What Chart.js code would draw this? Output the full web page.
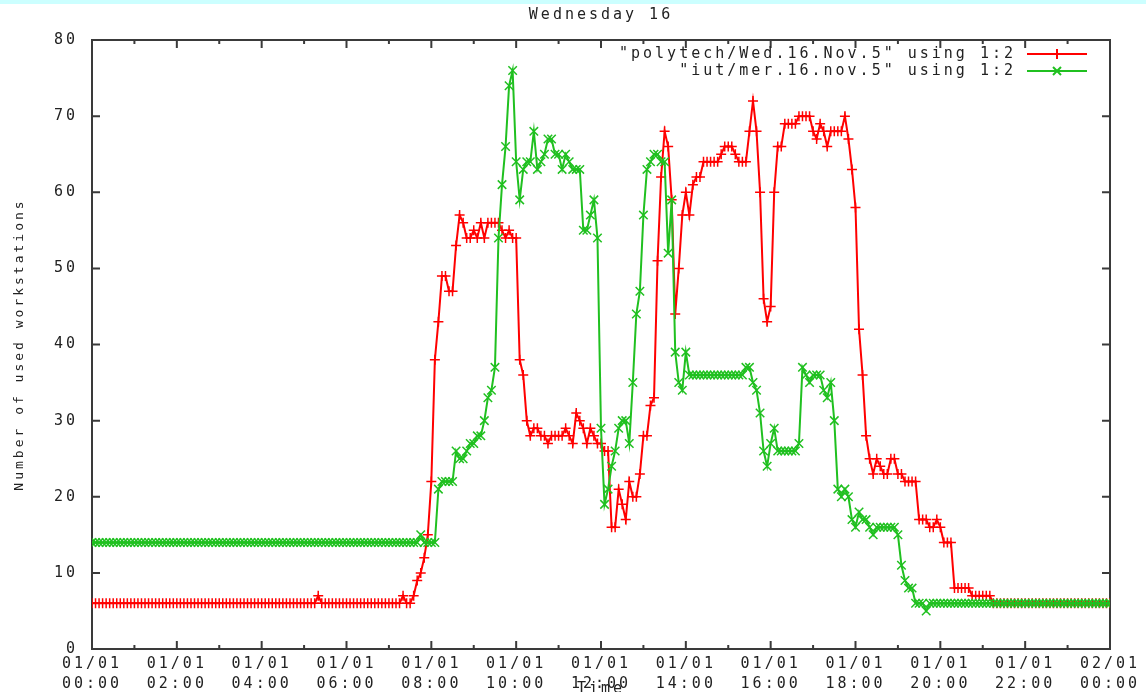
<!DOCTYPE html>
<html lang="en">

<head>
    <meta charset="UTF-8">
    <title>Wednesday 16</title>
    <script src="https://cdn.jsdelivr.net/npm/chart.js"></script>
    <style>
        html, body {
            margin: 0;
            padding: 0;
            background: #fff;
            overflow: hidden;
        }
        .wrapper {
            position: relative;
            width: 1146px;
            height: 692px;
        }
        .band {
            position: absolute;
            left: 0;
            top: 0;
            width: 100%;
            height: 4px;
            background: #ccffff;
        }
    </style>
</head>

<body>
    <div class="wrapper">
        <canvas id="usageChart"></canvas>
        <div class="band"></div>
    </div>

    <script>
        // one sample every 5 minutes, 00:00 -> 24:00
        const sampleMinutes = 5;

        const xTickLabels = [
            ['01/01', '00:00'], ['01/01', '02:00'], ['01/01', '04:00'], ['01/01', '06:00'],
            ['01/01', '08:00'], ['01/01', '10:00'], ['01/01', '12:00'], ['01/01', '14:00'],
            ['01/01', '16:00'], ['01/01', '18:00'], ['01/01', '20:00'], ['01/01', '22:00'],
            ['02/01', '00:00']
        ];
        const yTicks = [0, 10, 20, 30, 40, 50, 60, 70, 80];

        const polytechLabel = '"polytech/Wed.16.Nov.5" using 1:2';
        const iutLabel = '"iut/mer.16.nov.5" using 1:2';

        // one row per hour (12 samples)
        const polytech = [
            6, 6, 6, 6, 6, 6, 6, 6, 6, 6, 6, 6,
            6, 6, 6, 6, 6, 6, 6, 6, 6, 6, 6, 6,
            6, 6, 6, 6, 6, 6, 6, 6, 6, 6, 6, 6,
            6, 6, 6, 6, 6, 6, 6, 6, 6, 6, 6, 6,
            6, 6, 6, 6, 6, 6, 6, 6, 6, 6, 6, 6,
            6, 6, 6, 6, 7, 6, 6, 6, 6, 6, 6, 6,
            6, 6, 6, 6, 6, 6, 6, 6, 6, 6, 6, 6,
            6, 6, 6, 6, 7, 6, 6, 7, 9, 10, 12, 15,
            22, 38, 43, 49, 49, 47, 47, 53, 57, 56, 54, 54,
            55, 54, 56, 54, 56, 56, 56, 56, 55, 54, 55, 54,
            54, 38, 36, 30, 28, 29, 29, 28, 28, 27, 28, 28,
            28, 28, 29, 28, 27, 31, 30, 29, 27, 29, 28, 27,
            27, 26, 26, 16, 16, 21, 19, 17, 22, 20, 20, 23,
            28, 28, 32, 33, 51, 62, 68, 66, 59, 44, 50, 57,
            60, 57, 61, 62, 62, 64, 64, 64, 64, 64, 65, 66,
            66, 66, 65, 64, 64, 64, 68, 72, 68, 60, 46, 43,
            45, 60, 66, 66, 69, 69, 69, 69, 70, 70, 70, 70,
            68, 67, 69, 68, 66, 68, 68, 68, 68, 70, 67, 63,
            58, 42, 36, 28, 25, 23, 25, 24, 23, 23, 25, 25,
            23, 23, 22, 22, 22, 22, 17, 17, 17, 16, 16, 17,
            16, 14, 14, 14, 8, 8, 8, 8, 8, 7, 7, 7,
            7, 7, 7, 6, 6, 6, 6, 6, 6, 6, 6, 6,
            6, 6, 6, 6, 6, 6, 6, 6, 6, 6, 6, 6,
            6, 6, 6, 6, 6, 6, 6, 6, 6, 6, 6, 6,
            6
        ];

        const iut = [
            14, 14, 14, 14, 14, 14, 14, 14, 14, 14, 14, 14,
            14, 14, 14, 14, 14, 14, 14, 14, 14, 14, 14, 14,
            14, 14, 14, 14, 14, 14, 14, 14, 14, 14, 14, 14,
            14, 14, 14, 14, 14, 14, 14, 14, 14, 14, 14, 14,
            14, 14, 14, 14, 14, 14, 14, 14, 14, 14, 14, 14,
            14, 14, 14, 14, 14, 14, 14, 14, 14, 14, 14, 14,
            14, 14, 14, 14, 14, 14, 14, 14, 14, 14, 14, 14,
            14, 14, 14, 14, 14, 14, 14, 14, 14, 15, 14, 14,
            14, 14, 21, 22, 22, 22, 22, 26, 25, 25, 26, 27,
            27, 28, 28, 30, 33, 34, 37, 54, 61, 66, 74, 76,
            64, 59, 63, 64, 64, 68, 63, 64, 65, 67, 67, 65,
            65, 63, 65, 64, 63, 63, 63, 55, 55, 57, 59, 54,
            29, 19, 21, 24, 26, 29, 30, 30, 27, 35, 44, 47,
            57, 63, 64, 65, 65, 64, 64, 52, 59, 39, 35, 34,
            39, 36, 36, 36, 36, 36, 36, 36, 36, 36, 36, 36,
            36, 36, 36, 36, 36, 37, 37, 35, 34, 31, 26, 24,
            27, 29, 26, 26, 26, 26, 26, 26, 27, 37, 36, 35,
            36, 36, 36, 34, 33, 35, 30, 21, 20, 21, 20, 17,
            16, 18, 17, 17, 16, 15, 16, 16, 16, 16, 16, 16,
            15, 11, 9, 8, 8, 6, 6, 6, 5, 6, 6, 6,
            6, 6, 6, 6, 6, 6, 6, 6, 6, 6, 6, 6,
            6, 6, 6, 6, 6, 6, 6, 6, 6, 6, 6, 6,
            6, 6, 6, 6, 6, 6, 6, 6, 6, 6, 6, 6,
            6, 6, 6, 6, 6, 6, 6, 6, 6, 6, 6, 6,
            6
        ];

        const toPoints = arr => arr.map((v, i) => ({ x: i * sampleMinutes / 60, y: v }));

        // gnuplot look: box border, inward ticks on all sides, key top right
        const gnuplotFrame = {
            id: 'gnuplotFrame',
            beforeDraw(chart) {
                chart.ctx.letterSpacing = '3px';
            },
            beforeDatasetsDraw(chart) {
                const { ctx, chartArea: a, scales: { x, y } } = chart;
                ctx.save();
                ctx.strokeStyle = '#3a3a3a';
                ctx.lineWidth = 2;
                ctx.strokeRect(a.left, a.top, a.right - a.left, a.bottom - a.top);
                ctx.beginPath();
                for (let h = 0; h <= 24; h++) {
                    const px = x.getPixelForValue(h);
                    const len = h % 2 ? 4 : 8;
                    ctx.moveTo(px, a.bottom);
                    ctx.lineTo(px, a.bottom - len);
                    ctx.moveTo(px, a.top);
                    ctx.lineTo(px, a.top + len);
                }
                yTicks.forEach(v => {
                    const py = y.getPixelForValue(v);
                    ctx.moveTo(a.left, py);
                    ctx.lineTo(a.left + 8, py);
                    ctx.moveTo(a.right, py);
                    ctx.lineTo(a.right - 8, py);
                });
                ctx.stroke();
                ctx.restore();
            },
            afterDatasetsDraw(chart) {
                const { ctx, chartArea: a } = chart;
                ctx.save();
                ctx.font = "15px 'DejaVu Sans Mono', monospace";
                ctx.textAlign = 'right';
                ctx.textBaseline = 'middle';
                chart.data.datasets.forEach((ds, k) => {
                    const cy = a.top + 14 + k * 17;
                    ctx.fillStyle = '#222';
                    ctx.fillText(ds.label, a.right - 94, cy);
                    ctx.strokeStyle = ds.borderColor;
                    ctx.lineWidth = 2;
                    ctx.beginPath();
                    ctx.moveTo(a.right - 83, cy);
                    ctx.lineTo(a.right - 23, cy);
                    const cx = a.right - 53;
                    if (ds.pointStyle === 'cross') {
                        ctx.moveTo(cx, cy - 5);
                        ctx.lineTo(cx, cy + 5);
                    } else {
                        ctx.moveTo(cx - 4, cy - 4);
                        ctx.lineTo(cx + 4, cy + 4);
                        ctx.moveTo(cx - 4, cy + 4);
                        ctx.lineTo(cx + 4, cy - 4);
                    }
                    ctx.stroke();
                });
                ctx.restore();
            }
        };

        Chart.defaults.font.family = "'DejaVu Sans Mono', monospace";
        Chart.defaults.font.size = 15;
        Chart.defaults.color = '#222';

        const ctx = document.getElementById('usageChart').getContext('2d');

        const data = {
            datasets: [{
                label: polytechLabel,
                data: toPoints(polytech),
                borderColor: '#ff0000',
                pointBorderColor: '#ff0000',
                pointStyle: 'cross',
                pointRadius: 5,
                pointBorderWidth: 1.5,
                borderWidth: 2,
                tension: 0,
                fill: false,
                order: 1
            }, {
                label: iutLabel,
                data: toPoints(iut),
                borderColor: '#20c020',
                pointBorderColor: '#20c020',
                pointStyle: 'crossRot',
                pointRadius: 6,
                pointBorderWidth: 1.5,
                borderWidth: 2,
                tension: 0,
                fill: false,
                order: 0
            }]
        };

        const config = {
            type: 'line',
            data: data,
            plugins: [gnuplotFrame],
            options: {
                responsive: true,
                maintainAspectRatio: false,
                animation: false,
                layout: {
                    padding: { left: 0, right: 36, top: 0, bottom: 0 }
                },
                scales: {
                    x: {
                        type: 'linear',
                        min: 0,
                        max: 24,
                        grid: { display: false, drawTicks: false },
                        border: { display: false },
                        ticks: {
                            stepSize: 2,
                            autoSkip: false,
                            maxRotation: 0,
                            padding: 5,
                            font: { size: 15, lineHeight: 1.34 },
                            callback: value => xTickLabels[value / 2]
                        },
                        title: {
                            display: true,
                            text: 'Time',
                            font: { size: 15, lineHeight: 1.34 },
                            padding: { top: 0, bottom: -7 }
                        },
                        afterFit: s => { s.height = 43; }
                    },
                    y: {
                        min: 0,
                        max: 80,
                        grid: { display: false, drawTicks: false },
                        border: { display: false },
                        ticks: {
                            stepSize: 10,
                            padding: 14
                        },
                        title: {
                            display: true,
                            text: 'Number of used workstations',
                            font: { size: 13 },
                            padding: { top: 12, bottom: 0 }
                        },
                        afterFit: s => { s.width = 92; }
                    }
                },
                plugins: {
                    legend: { display: false },
                    tooltip: { enabled: false },
                    title: {
                        display: true,
                        text: 'Wednesday 16',
                        fullSize: false,
                        font: { size: 15, weight: 'normal' },
                        padding: { top: 6, bottom: 16 }
                    }
                }
            }
        };

        new Chart(ctx, config);
    </script>
</body>

</html>
